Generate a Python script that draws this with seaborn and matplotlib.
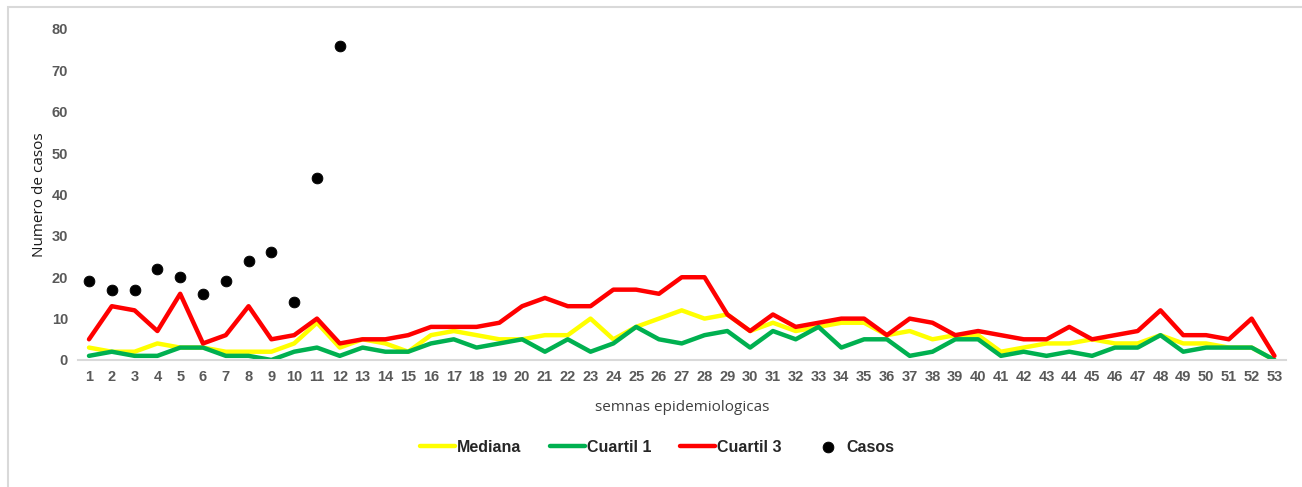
import numpy as np
import pandas as pd
import matplotlib
matplotlib.use('Agg')
import matplotlib.pyplot as plt
import seaborn as sns
from matplotlib.patches import Rectangle

# semanas epidemiologicas
semanas = list(range(1, 54))

mediana = [3, 2, 2, 4, 3, 3, 2, 2, 2, 4, 9, 3, 5, 4, 2, 6, 7, 6, 5, 5,
           6, 6, 10, 5, 8, 10, 12, 10, 11, 7, 9, 7, 8, 9, 9, 6, 7, 5, 6, 6,
           2, 3, 4, 4, 5, 4, 4, 6, 4, 4, 3, 3, 0]
cuartil1 = [1, 2, 1, 1, 3, 3, 1, 1, 0, 2, 3, 1, 3, 2, 2, 4, 5, 3, 4, 5,
            2, 5, 2, 4, 8, 5, 4, 6, 7, 3, 7, 5, 8, 3, 5, 5, 1, 2, 5, 5,
            1, 2, 1, 2, 1, 3, 3, 6, 2, 3, 3, 3, 0]
cuartil3 = [5, 13, 12, 7, 16, 4, 6, 13, 5, 6, 10, 4, 5, 5, 6, 8, 8, 8, 9, 13,
            15, 13, 13, 17, 17, 16, 20, 20, 11, 7, 11, 8, 9, 10, 10, 6, 10, 9, 6, 7,
            6, 5, 5, 8, 5, 6, 7, 12, 6, 6, 5, 10, 1]

semanas_casos = list(range(1, 13))
casos = [19, 17, 17, 22, 20, 16, 19, 24, 26, 14, 44, 76]

df = pd.DataFrame({'semana': semanas, 'Mediana': mediana,
                   'Cuartil 1': cuartil1, 'Cuartil 3': cuartil3})
df_casos = pd.DataFrame({'semana': semanas_casos, 'Casos': casos})

sns.set_style('white')
arial = ['Liberation Sans', 'DejaVu Sans']
plt.rcParams['font.family'] = ['Open Sans', 'DejaVu Sans']

fig = plt.figure(figsize=(13.02, 4.87), dpi=100)
ax = fig.add_axes([0.0596, 0.2608, 0.928, 0.6797])

sns.lineplot(data=df, x='semana', y='Mediana', color='#FFFF00', lw=3.2, ax=ax, label='Mediana')
sns.lineplot(data=df, x='semana', y='Cuartil 1', color='#00B050', lw=3.2, ax=ax, label='Cuartil 1')
sns.lineplot(data=df, x='semana', y='Cuartil 3', color='#FF0000', lw=3.2, ax=ax, label='Cuartil 3')
sns.scatterplot(data=df_casos, x='semana', y='Casos', color='black', s=60,
                edgecolor='black', ax=ax, label='Casos', zorder=5)

ax.set_xlim(0.5, 53.5)
ax.set_ylim(0, 80)
ax.set_xticks(semanas)
ax.set_yticks(range(0, 81, 10))
ax.tick_params(axis='both', length=0, labelsize=10.5, labelcolor='#595959', pad=7)
for lab in ax.get_xticklabels() + ax.get_yticklabels():
    lab.set_family(arial)
    lab.set_fontweight('bold')

sns.despine(ax=ax, left=True)
ax.spines['bottom'].set_color('#D9D9D9')
ax.spines['bottom'].set_linewidth(1.5)

ax.set_xlabel('semnas epidemiologicas', fontsize=11, color='#404040', labelpad=12)
ax.set_ylabel('Numero de casos', fontsize=11, color='#1a1a1a', labelpad=3)

handles, labels = ax.get_legend_handles_labels()
leg = fig.legend(handles, labels, loc='center', bbox_to_anchor=(0.505, 0.082),
                 ncol=4, frameon=False, columnspacing=1.8, handlelength=2.2,
                 handletextpad=0.1, prop={'family': arial, 'weight': 'bold', 'size': 11.5})
ax.get_legend().remove()

fig.patches.append(Rectangle((0.006, -0.01), 1.0, 0.996, transform=fig.transFigure,
                             fill=False, edgecolor='#D9D9D9', lw=1.5))

fig.savefig('out.png', dpi=100)
